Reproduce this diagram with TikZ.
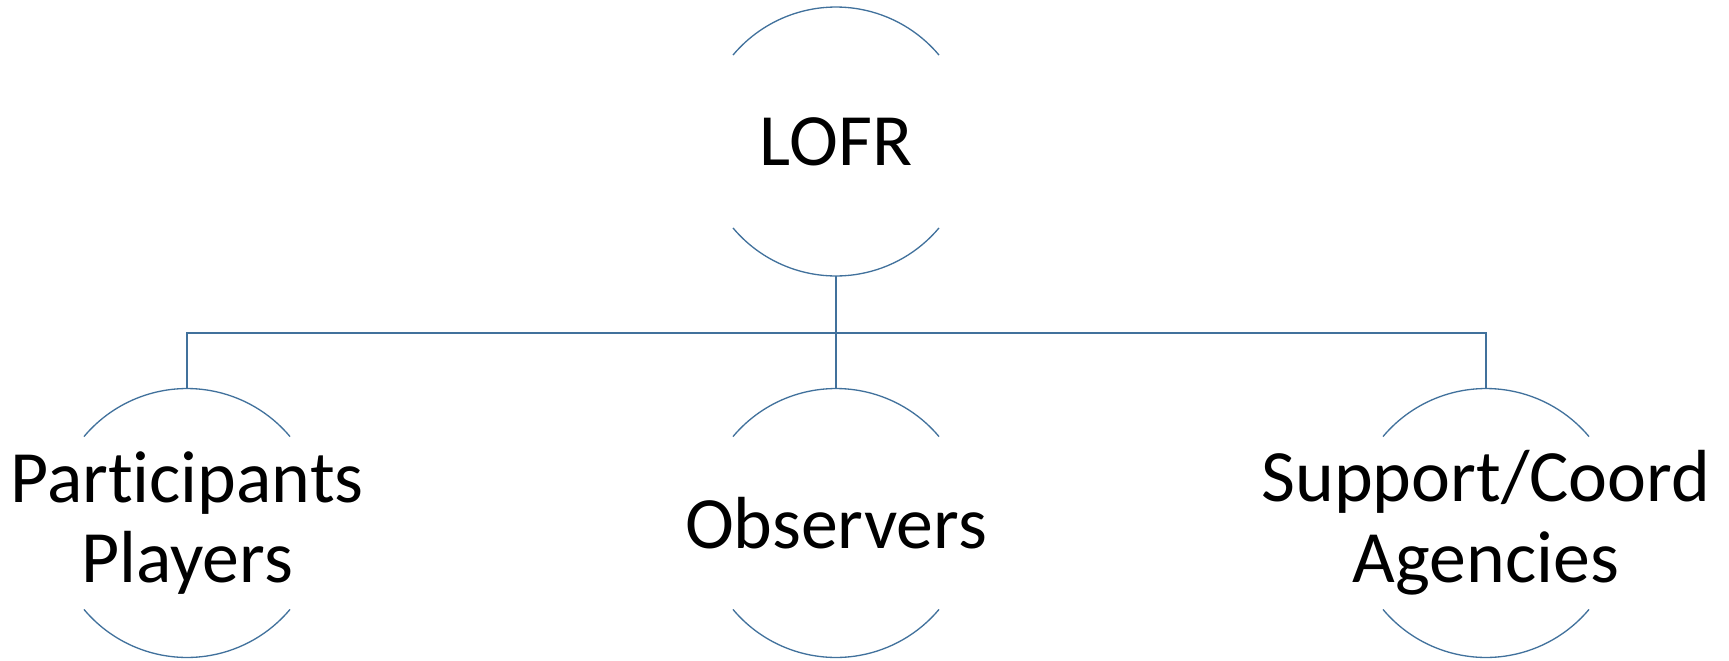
\documentclass[tikz,border=0pt]{standalone}
\usepackage{fontspec}
\setmainfont[Ligatures=NoCommon]{Carlito}
\definecolor{orgline}{RGB}{65,113,156}
\tikzset{
    unit/.style={shape=rectangle,minimum width=5.38cm,minimum height=5.38cm,
        inner sep=0pt,align=center,font=\fontsize{42}{46}\selectfont},
    link/.style={draw=orgline,line width=0.75pt}
}
\begin{document}
\begin{tikzpicture}[x=0.02cm,y=-0.02cm]
\useasboundingbox (0,0) rectangle (1729,660);
\node [unit] (lofr) at (836,141.5) {LOFR};
\node [unit] (part) at (187,523) {Participants\\Players};
\node [unit] (obs) at (836,523) {Observers};
\node [unit] (supp) at (1486,523) {Support/Coord\\Agencies};
\coordinate (bus) at (836,333);
% open circles: only top and bottom arcs
\foreach \n in {lofr,part,obs,supp} {
    \draw [link] (\n.center) ++(140:2.69cm) arc [start angle=140,end angle=40,radius=2.69cm];
    \draw [link] (\n.center) ++(220:2.69cm) arc [start angle=220,end angle=320,radius=2.69cm];
}
\draw [link] (lofr.south) -- (obs.north);
\draw [link] (part.north) |- (bus) -| (supp.north);
\end{tikzpicture}
\end{document}
